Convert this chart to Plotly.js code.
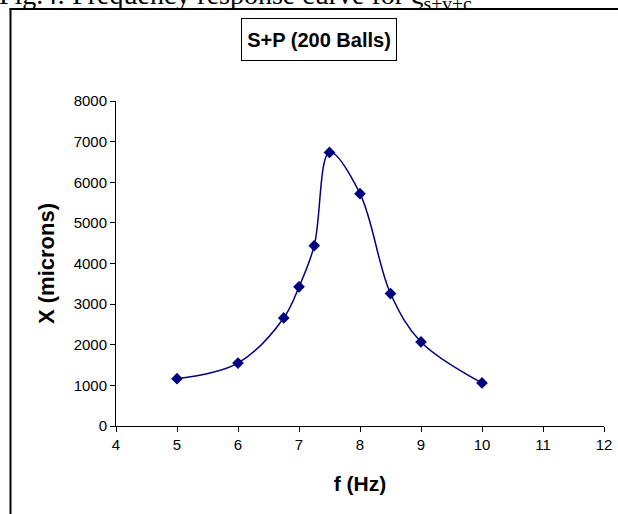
<!DOCTYPE html>
<html>
<head>
<meta charset="utf-8">
<script src="https://cdn.plot.ly/plotly-3.0.1.min.js"></script>
<style>html,body{margin:0;padding:0;background:#fff;}#chart{width:618px;height:514px;}</style>
</head>
<body>
<div id="chart"></div>
<script>
// Data
const frequencyHz = [5, 6, 6.75, 7, 7.25, 7.5, 8, 8.5, 9, 10];
const amplitudeMicrons = [1165, 1550, 2660, 3425, 4440, 6735, 5720, 3260, 2070, 1060];
const xTickValues = [4, 5, 6, 7, 8, 9, 10, 11, 12];
const yTickValues = [0, 1000, 2000, 3000, 4000, 5000, 6000, 7000, 8000];
const chartTitle = "S+P (200 Balls)";
const captionText = "Fig.4: Frequency response curve for ξ<sub>s+v+c</sub>";
const xTitle = "f (Hz)";
const yTitle = "X (microns)";

const W = 618, H = 514;
const M = {l: 116, r: 14, t: 101, b: 88};
const PW = W - M.l - M.r, PH = H - M.t - M.b;
const px2x = p => (p - M.l) / PW;
const px2y = p => (H - M.b - p) / PH;

const trace = {
  x: frequencyHz,
  y: amplitudeMicrons,
  type: 'scatter',
  mode: 'lines+markers',
  line: {color: '#000080', width: 1.5, shape: 'spline', smoothing: 1},
  marker: {symbol: 'diamond', size: 9, color: '#000080'},
  showlegend: false,
  cliponaxis: false
};

const layout = {
  width: W, height: H,
  margin: M,
  paper_bgcolor: '#ffffff',
  plot_bgcolor: '#ffffff',
  font: {family: 'Liberation Sans, Arial, sans-serif', color: '#000'},
  showlegend: false,
  xaxis: {
    range: [4, 12],
    tickvals: xTickValues,
    ticktext: xTickValues.map(String),
    showgrid: false, zeroline: false,
    showline: true, linecolor: '#000', linewidth: 1,
    ticks: 'outside', ticklen: 5, tickcolor: '#000', tickwidth: 1,
    tickfont: {size: 15, family: 'Liberation Sans, Arial, sans-serif'},
    title: {text: '<b>' + xTitle + '</b>', font: {size: 21}, standoff: 24}
  },
  yaxis: {
    range: [0, 8000],
    tickvals: yTickValues,
    ticktext: yTickValues.map(String),
    showgrid: false, zeroline: false,
    showline: true, linecolor: '#000', linewidth: 1,
    ticks: 'outside', ticklen: 5, tickcolor: '#000', tickwidth: 1,
    tickfont: {size: 15, family: 'Liberation Sans, Arial, sans-serif'},
    title: {text: '<b>' + yTitle + '</b>', font: {size: 22}, standoff: 12}
  },
  shapes: [
    {type: 'line', xref: 'paper', yref: 'paper', x0: px2x(10.5), x1: px2x(10.5), y0: px2y(8.5), y1: px2y(520), line: {color: '#000', width: 2}},
    {type: 'line', xref: 'paper', yref: 'paper', x0: px2x(9.5), x1: px2x(625), y0: px2y(9), y1: px2y(9), line: {color: '#000', width: 2}}
  ],
  annotations: [
    {
      text: '<b>' + chartTitle + '</b>',
      xref: 'paper', yref: 'paper',
      x: px2x(319), y: px2y(39.5), xanchor: 'center', yanchor: 'middle',
      showarrow: false,
      font: {size: 20, family: 'Liberation Sans, Arial, sans-serif', color: '#000'},
      bordercolor: '#000', borderwidth: 1, borderpad: 0,
      width: 154, height: 41, bgcolor: '#fff'
    },
    {
      text: captionText,
      xref: 'paper', yref: 'paper',
      x: px2x(-3), y: px2y(16), xanchor: 'left', yanchor: 'bottom',
      showarrow: false,
      font: {size: 28, family: 'Liberation Serif, Times New Roman, serif', color: '#000'}
    }
  ]
};

Plotly.newPlot('chart', [trace], layout, {displayModeBar: false, staticPlot: true});
</script>
</body>
</html>
